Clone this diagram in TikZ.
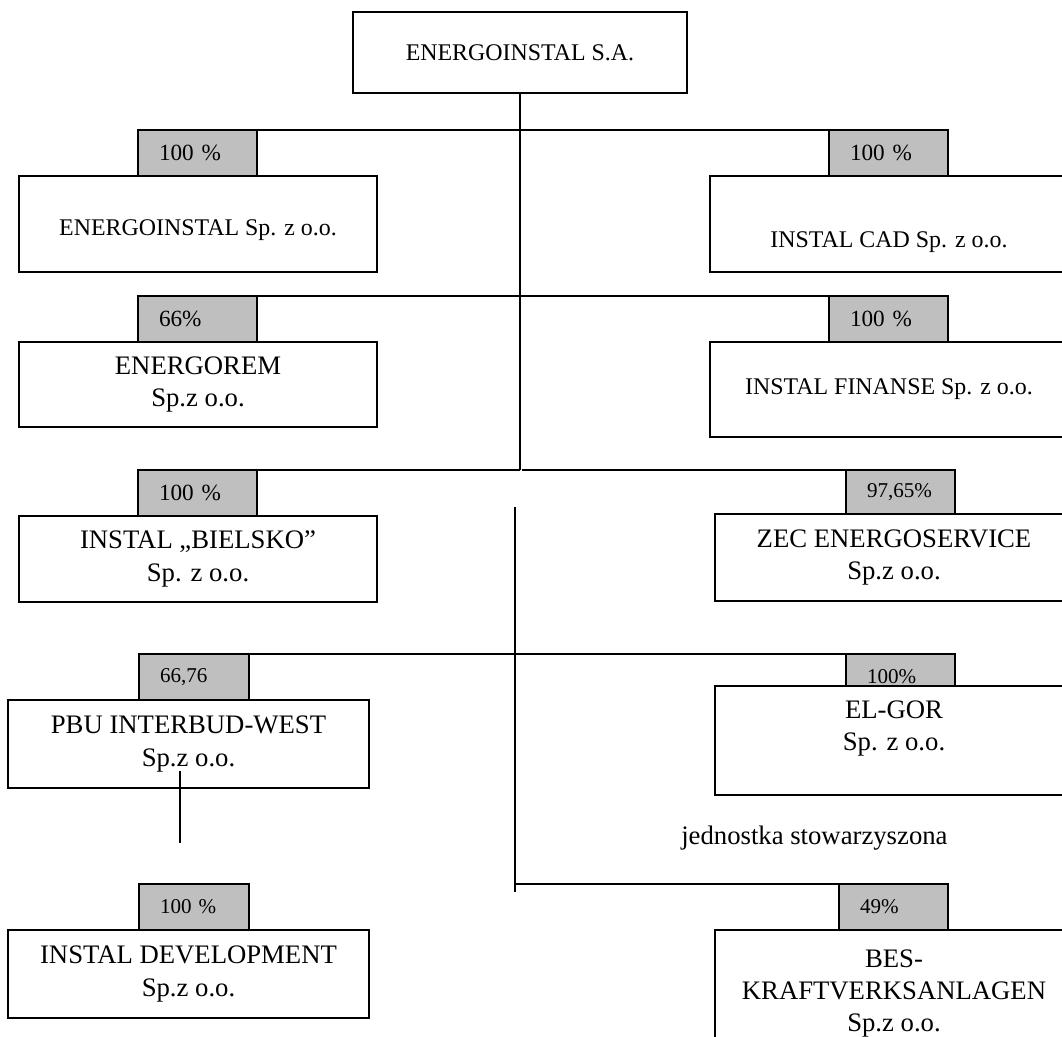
\documentclass[tikz,border=0pt]{standalone}
\usepackage{fontspec}
\setmainfont{Liberation Serif}
\usepackage{tikz}
\usetikzlibrary{positioning}

\definecolor{tabgray}{RGB}{191,191,191}

\begin{document}
\begin{tikzpicture}
  [
    box/.style={draw=black, fill=white, line width=1.4pt, anchor=north west,
      align=center, inner sep=0pt, outer sep=0pt},
    lbox/.style={box, minimum width=8.95cm},
    rbox/.style={box, minimum width=8.95cm},
    tab/.style={draw=black, fill=tabgray, line width=1.4pt, anchor=north west,
      align=left, inner xsep=0.525cm, inner ysep=0pt, outer sep=0pt,
      minimum height=1.15cm},
    smalltext/.style={font=\fontsize{17}{20}\selectfont},
    bigtext/.style={font=\fontsize{19}{23}\selectfont},
    bigtab/.style={tab, text width=1.925cm, font=\fontsize{16.5}{19}\selectfont},
    smalltab/.style={tab, text width=1.7cm, font=\fontsize{15}{17}\selectfont},
    ln/.style={draw=black, line width=1.3pt}
  ]

  \useasboundingbox (0,0) rectangle (26.55,-25.925);

  \node (top) at (8.825,-0.3) [box, smalltext, minimum width=8.35cm,
    minimum height=2.025cm] {ENERGOINSTAL S.A.};

  % percentage tabs
  \node (tl1) at ( 3.45 ,-3.25 ) [bigtab]   {100 \%};
  \node (tr1) at (20.725,-3.25 ) [bigtab]   {100 \%};
  \node (tl2) at ( 3.45 ,-7.4  ) [bigtab]   {66\%};
  \node (tr2) at (20.725,-7.4  ) [bigtab]   {100 \%};
  \node (tl3) at ( 3.45 ,-11.75) [bigtab]   {100 \%};
  \node (tr3) at (21.15 ,-11.75) [smalltab, text width=1.675cm, minimum height=1.1cm] {97,65\%};
  \node (tl4) at ( 3.475,-16.35) [smalltab] {66,76};
  \node (tr4) at (21.15 ,-16.35) [smalltab, text width=1.675cm] {100\%};
  \node (tl5) at ( 3.475,-22.1 ) [smalltab] {100 \%};
  \node (tr5) at (20.975,-22.1 ) [smalltab, text width=1.675cm] {49\%};

  % companies
  \node (l1) at ( 0.475,-4.4  ) [lbox, minimum height=2.4cm]   {};
  \node (r1) at (17.75 ,-4.4  ) [rbox, minimum height=2.4cm]   {};
  \node (l2) at ( 0.475,-8.55 ) [lbox, bigtext, minimum height=2.125cm]
    {ENERGOREM\\Sp.z o.o.};
  \node (r2) at (17.75 ,-8.55 ) [rbox, smalltext, minimum height=2.375cm]
    {INSTAL FINANSE Sp. z o.o.};
  \node (l3) at ( 0.475,-12.9 ) [lbox, bigtext, minimum height=2.15cm]
    {INSTAL „BIELSKO”\\Sp. z o.o.};
  \node (r3) at (17.875,-12.85) [rbox, bigtext, minimum height=2.175cm]
    {ZEC ENERGOSERVICE\\Sp.z o.o.};
  \node (l4) at ( 0.2  ,-17.5 ) [lbox, bigtext, minimum width=9.025cm, minimum height=2.2cm]
    {PBU INTERBUD-WEST\\Sp.z o.o.};
  \node (r4) at (17.875,-17.15) [rbox, minimum height=2.725cm] {};
  \node (l5) at ( 0.2  ,-23.25) [lbox, bigtext, minimum width=9.025cm, minimum height=2.2cm]
    {INSTAL DEVELOPMENT\\Sp.z o.o.};
  \node (r5) at (17.875,-23.25) [rbox, bigtext, minimum height=3.175cm]
    {BES-\\KRAFTVERKSANLAGEN\\Sp.z o.o.};

  \node (l1t) at ([yshift=-0.15cm]l1.center) [smalltext] {ENERGOINSTAL Sp. z o.o.};
  \node (r1t) at ([yshift=-0.45cm]r1.center) [smalltext] {INSTAL CAD Sp. z o.o.};
  \node (r4t) at ([yshift=0.3cm]r4.center)   [bigtext, align=center] {EL-GOR\\Sp. z o.o.};

  \node (assoc) at (20.36,-20.95) [bigtext] {jednostka stowarzyszona};

  % connectors
  \coordinate (t1)  at (13.0  ,-11.75);
  \coordinate (t1r) at (13.05 ,-11.75);
  \coordinate (t2a) at (12.875,-12.675);
  \coordinate (t2b) at (12.875,-22.3);
  \coordinate (t2c) at (12.875,-22.1);
  \coordinate (p1)  at ( 4.5  ,-19.275);
  \coordinate (p2)  at ( 4.5  ,-21.075);

  \draw [ln] (top.south) -- (t1);
  \draw [ln] (tl1.north west) -- (tr1.north east);
  \draw [ln] (tl2.north west) -- (tr2.north east);
  \draw [ln] (tl3.north west) -- (t1);
  \draw [ln] (t1r) -- (tr3.north east);
  \draw [ln] (t2a) -- (t2b);
  \draw [ln] (tl4.north west) -- (tr4.north east);
  \draw [ln] (t2c) -- (tr5.north east);
  \draw [ln] (p1) -- (p2);
\end{tikzpicture}
\end{document}
